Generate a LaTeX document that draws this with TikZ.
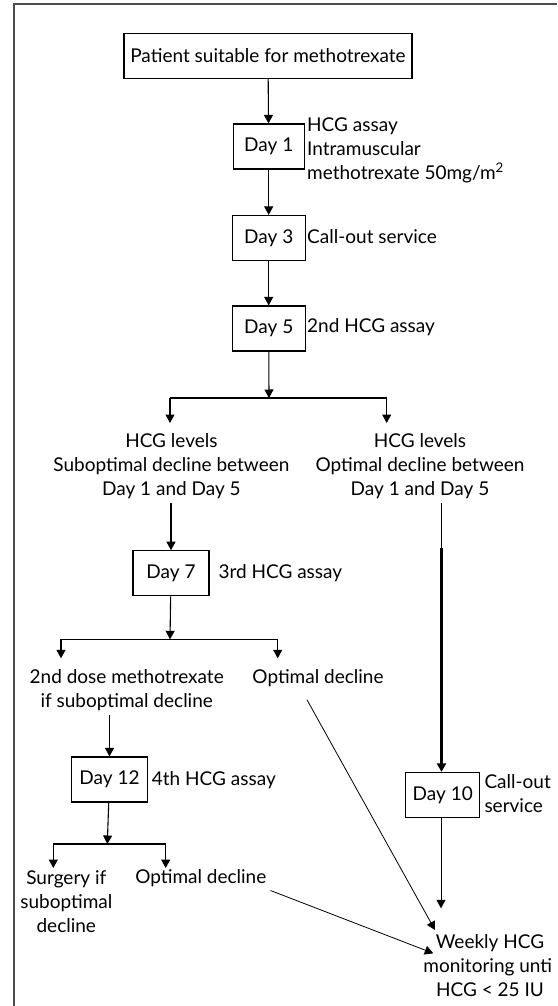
\documentclass[tikz,border=0pt]{standalone}
\usepackage{fontspec}
\setmainfont{Lato}
\usetikzlibrary{arrows.meta}

\begin{document}
\begin{tikzpicture}[x=1pt,y=-1pt,
    font=\fontsize{19}{24}\selectfont,
    daybox/.style={draw,line width=1.2pt,minimum width=73pt,minimum height=45pt,inner sep=0pt},
    note/.style={anchor=west,align=left,inner sep=0pt},
    txt/.style={align=center,inner sep=4pt},
    arr/.style={line width=1.1pt,-{Triangle[length=8.5pt,width=9pt]}},
    link/.style={line width=1.1pt},
    thinarr/.style={line width=0.8pt,-{Triangle[length=8.5pt,width=9pt]}}]
    \useasboundingbox (0,0) rectangle (557,1006);
    \draw[line width=2pt,black!70] (14,1006) -- (14,4.5) -- (557,4.5);

    % main column
    \node[draw,line width=1.2pt,minimum width=288pt,minimum height=45pt] (pat) at (268,56) {Patient suitable for methotrexate};
    \node[daybox,minimum width=71pt] (d1) at (268.7,146.5) {Day 1};
    \node[note] (n1) at (307,150) {HCG assay\\Intramuscular\\methotrexate 50mg/m\textsuperscript{2}};
    \node[daybox] (d3) at (268.7,238) {Day 3};
    \node[note] (n3) at (307,237) {Call-out service};
    \node[daybox] (d5) at (268.7,328.5) {Day 5};
    \node[note] (n5) at (307,327) {2nd HCG assay};
    \draw[arr] (pat) -- (d1);
    \draw[arr] (d1) -- (d3);
    \draw[arr] (d3) -- (d5);

    % first split
    \coordinate (j1) at (269,398);
    \coordinate (bl) at (170,398);
    \coordinate (br) at (386.7,398);
    \draw[arr] (d5) -- (j1);
    \draw[link] (bl) -- (br);
    \draw[arr] (bl) -- ++(0,25);
    \draw[arr] (br) -- ++(0,25);
    \node[txt] (lvl1) at (171.4,465.7) {HCG levels\\Suboptimal decline between\\Day 1 and Day 5};
    \node[txt] (lvl2) at (420,465.7) {HCG levels\\Optimal decline between\\Day 1 and Day 5};

    % suboptimal branch
    \node[daybox,minimum width=76pt] (d7) at (171,573.3) {Day 7};
    \node[note] (n7) at (218.3,573.3) {3rd HCG assay};
    \draw[arr] (lvl1.south -| d7.north) -- (d7);
    \coordinate (j2) at (170,639.3);
    \coordinate (bl2) at (61,639.3);
    \coordinate (br2) at (277.7,639.3);
    \draw[arr] (d7) -- (j2);
    \draw[link] (bl2) -- (br2);
    \draw[arr] (bl2) -- ++(0,19);
    \draw[arr] (br2) -- ++(0,19);
    \node[txt] (dose) at (126.7,690.5) {2nd dose methotrexate\\if suboptimal decline};
    \node[txt] (opt1) at (318,678) {Optimal decline};

    \node[daybox,minimum width=76pt] (d12) at (109.5,779.5) {Day 12};
    \node[note] (n12) at (151.7,780) {4th HCG assay};
    \draw[arr] (dose.south -| d12.north) -- (d12);
    \coordinate (j3) at (107.3,844);
    \coordinate (bl3) at (53.3,844);
    \coordinate (br3) at (165.7,844);
    \draw[arr] (d12) -- (j3);
    \draw[link] (bl3) -- (br3);
    \draw[arr] (bl3) -- ++(0,24);
    \draw[arr] (br3) -- ++(0,24);
    \node[txt] (surg) at (66.3,901.5) {Surgery if\\suboptimal\\decline};
    \node[txt] (opt2) at (200.8,877.7) {Optimal decline};

    % optimal branch
    \coordinate (r1) at (441.5,548);
    \node[daybox,minimum width=74pt] (d10) at (442.8,795) {Day 10};
    \node[note] (n10) at (484.3,794) {Call-out\\service};
    \draw[line width=0.8pt] (lvl2.south -| r1) -- (r1);
    \draw[arr,line width=2.6pt] (r1) -- (r1 |- d10.north);

    % weekly monitoring
    \node[txt] (week) at (490,966) {Weekly HCG\\monitoring unti\phantom{l}\\HCG < 25 IU};
    \coordinate (w1) at (441,908.3);
    \coordinate (w2) at (435,930);
    \coordinate (w3) at (433.3,953.3);
    \draw[thinarr] (d10.south -| w1) -- (w1);
    \draw[thinarr] ([shift={(-11,9)}]opt1.south) -- (w2);
    \draw[thinarr] (opt2.south east) -- (w3);
\end{tikzpicture}
\end{document}
